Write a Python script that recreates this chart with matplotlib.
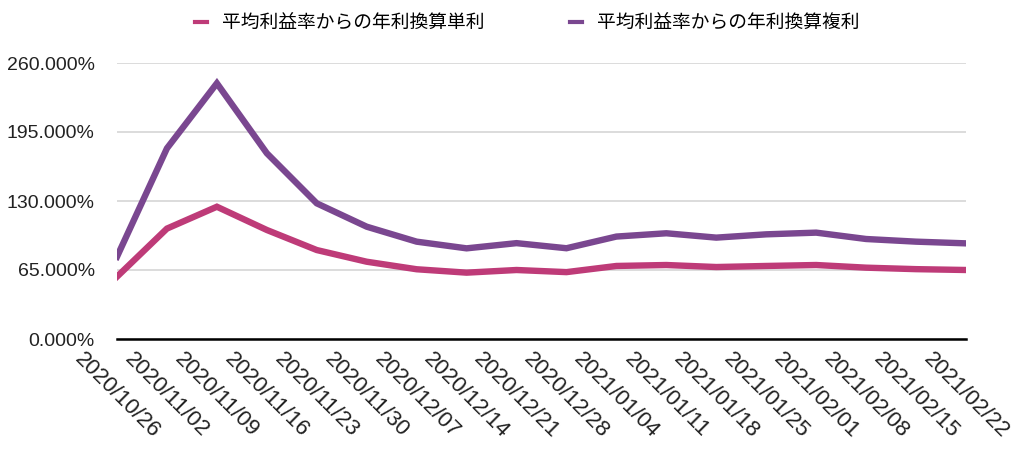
import matplotlib.pyplot as plt
from matplotlib.ticker import FuncFormatter

plt.rcParams['font.family'] = ['Liberation Sans', 'Noto Sans CJK JP', 'DejaVu Sans']

dates = ["2020/10/26", "2020/11/02", "2020/11/09", "2020/11/16", "2020/11/23",
         "2020/11/30", "2020/12/07", "2020/12/14", "2020/12/21", "2020/12/28",
         "2021/01/04", "2021/01/11", "2021/01/18", "2021/01/25", "2021/02/01",
         "2021/02/08", "2021/02/15", "2021/02/22"]
simple = [58.7, 104.0, 124.6, 102.7, 83.8, 72.8, 65.7, 62.5, 65.0, 63.0,
          68.8, 69.7, 67.8, 68.8, 69.7, 67.2, 65.8, 65.0]
compound = [77.5, 179.6, 240.9, 175.0, 127.8, 105.8, 91.7, 85.4, 90.3, 85.5,
            96.5, 99.6, 95.5, 98.6, 100.2, 94.2, 91.7, 90.1]
yticks = [0, 65, 130, 195, 260]
labels = ["平均利益率からの年利換算単利", "平均利益率からの年利換算複利"]

fig = plt.figure(figsize=(10.24, 4.49), dpi=100)
ax = fig.add_axes([117 / 1024, 1 - 339 / 449, (966 - 117) / 1024, (339 - 63) / 449])

x = range(len(dates))
ax.plot(x, simple, color="#BE3B78", lw=4.6, solid_joinstyle="miter",
        label=labels[0], zorder=3)
ax.plot(x, compound, color="#7A4790", lw=4.6, solid_joinstyle="miter",
        label=labels[1], zorder=3)

ax.set_xlim(0, len(dates) - 1)
ax.set_ylim(0, 260)
ax.set_yticks(yticks)
ax.yaxis.set_major_formatter(FuncFormatter(lambda v, _: f"{v:.3f}%"))
ax.grid(axis="y", color="#d9d9d9", lw=1.3)
ax.set_axisbelow(True)
for s in ["left", "right", "top"]:
    ax.spines[s].set_visible(False)
ax.spines["bottom"].set_linewidth(1.8)
ax.spines["bottom"].set_zorder(4)

ax.set_xticks(list(x))
ax.set_xticklabels(dates, rotation=-45, ha="center", va="top")
ax.tick_params(axis="x", length=0, pad=7, labelsize=16, labelcolor="#222222")
ax.tick_params(axis="y", length=0, pad=16, labelsize=14, labelcolor="#222222")

leg = fig.legend(loc="upper center", bbox_to_anchor=(0.515, 1.01), ncol=2, frameon=False,
                 handlelength=0.6, columnspacing=4.6, handletextpad=0.8,
                 prop={"family": ["Noto Sans CJK JP"], "size": 13.5})
for h in leg.legend_handles:
    h.set_linewidth(3)

fig.savefig("out.png", dpi=100)
